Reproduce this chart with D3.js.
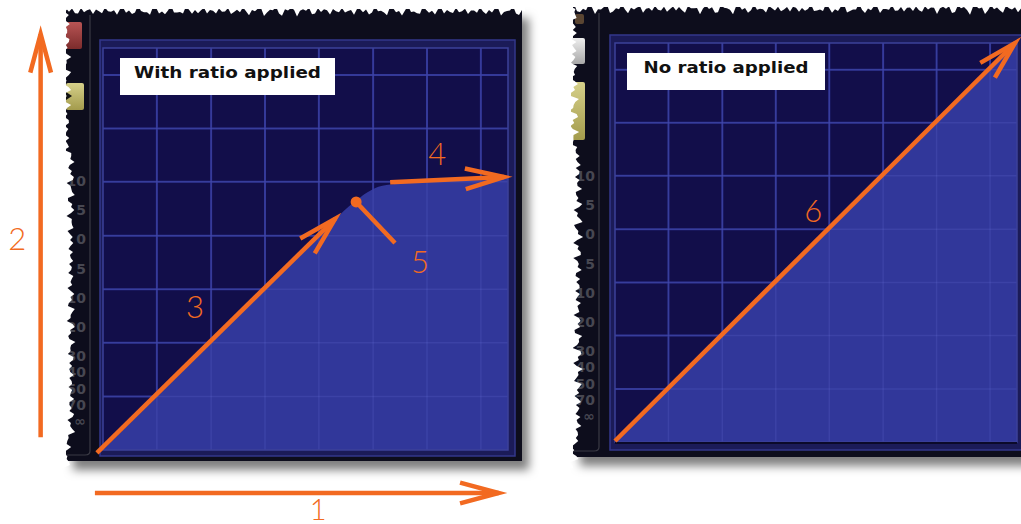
<!DOCTYPE html>
<html>
<head>
<meta charset="utf-8">
<script src="https://cdn.jsdelivr.net/npm/d3@7"></script>
<style>
  html, body { margin: 0; background: #fff; }
  svg { display: block; }
</style>
</head>
<body>
<div id="showBox"></div>
<script>
// levels are in display units: 0 = bottom / left edge, 100 = top / right edge
const gridLevels = [13.3, 26.7, 40, 53.3, 66.7, 80, 93.3];

// transfer curve with the ratio applied (soft knee)
const ratioIn  = [0, 57.5, 59.5, 62, 65, 68, 72, 80, 90, 100];
const ratioOut = [0, 57.5, 59.5, 61.6, 63.9, 65.5, 66.2, 66.7, 67.3, 67.9];

// unity curve, no ratio
const unityIn  = [0, 100];
const unityOut = [0, 100];

const kneePoint = [62.5, 61.7];

const meterLabels = ["10", "5", "0", "5", "10", "20", "30", "40", "50", "70", "\u221E"];
const titles = ["With ratio applied", "No ratio applied"];
const callouts = ["1", "2", "3", "4", "5", "6"];

const W = 1021, H = 524;
const orange = "#f26a21";

const svg = d3.select("#showBox").append("svg")
    .attr("width", W).attr("height", H);

const defs = svg.append("defs");
defs.append("filter").attr("id", "shadow")
    .attr("x", "-10%").attr("y", "-10%").attr("width", "130%").attr("height", "130%")
    .append("feDropShadow")
    .attr("dx", 7).attr("dy", 9).attr("stdDeviation", 5)
    .attr("flood-color", "#000").attr("flood-opacity", 0.5);

const redGrad = defs.append("linearGradient").attr("id", "redBtn").attr("x1", 0).attr("y1", 0).attr("x2", 0).attr("y2", 1);
redGrad.append("stop").attr("offset", 0).attr("stop-color", "#b85454");
redGrad.append("stop").attr("offset", 1).attr("stop-color", "#7c2c2c");
const yelGrad = defs.append("linearGradient").attr("id", "yelBtn").attr("x1", 0).attr("y1", 0).attr("x2", 0).attr("y2", 1);
yelGrad.append("stop").attr("offset", 0).attr("stop-color", "#d6d08a");
yelGrad.append("stop").attr("offset", 1).attr("stop-color", "#a39b4c");
const greyGrad = defs.append("linearGradient").attr("id", "greyBtn").attr("x1", 0).attr("y1", 0).attr("x2", 0).attr("y2", 1);
greyGrad.append("stop").attr("offset", 0).attr("stop-color", "#eeeeee");
greyGrad.append("stop").attr("offset", 1).attr("stop-color", "#a8a8a8");

// layout of the two plug-in screenshots
const panels = [
    {title: titles[0], xs: ratioIn, ys: ratioOut, curve: d3.curveMonotoneX,
     frame: [66, 9, 456, 452], col: 90, bezel: [100, 40, 415, 416], plot: [103, 48, 405, 402],
     box: [120, 58, 215, 37], textW: 187, left: true},
    {title: titles[1], xs: unityIn, ys: unityOut, curve: d3.curveLinear,
     frame: [573, 7, 470, 450], col: 599, bezel: [610, 35, 420, 415], plot: [615, 43, 402, 399],
     box: [627, 53, 198, 37], textW: 165, left: false}
];

panels.forEach(p => {
    const [px, py, pw, ph] = p.plot;
    p.x = d3.scaleLinear().domain([0, 100]).range([px, px + pw]);
    p.y = d3.scaleLinear().domain([0, 100]).range([py + ph, py]);
    const g = svg.append("g");

    // dark outer frame with its shadow
    const [fx, fy, fw, fh] = p.frame;
    g.append("rect").attr("x", fx).attr("y", fy).attr("width", fw).attr("height", fh)
        .attr("fill", "#0c0d1d").attr("filter", "url(#shadow)");

    // side column divider
    g.append("path")
        .attr("d", `M${p.col},${fy + 6} L${p.col},${fy + fh - 10} Q${p.col},${fy + fh - 6} ${p.col - 5},${fy + fh - 6} L${fx},${fy + fh - 6}`)
        .attr("fill", "none").attr("stroke", "#3a3a44").attr("stroke-width", 1.2);

    // little buttons on the side column
    if (p.left) {
        g.append("rect").attr("x", 66).attr("y", 22).attr("width", 16).attr("height", 27).attr("rx", 2).attr("fill", "url(#redBtn)");
        g.append("rect").attr("x", 66).attr("y", 83).attr("width", 18).attr("height", 27).attr("rx", 2).attr("fill", "url(#yelBtn)");
        g.append("path").attr("d", "M66,92 L72,96 L66,100 Z").attr("fill", "#111");
    } else {
        g.append("rect").attr("x", 575).attr("y", 14).attr("width", 9).attr("height", 10).attr("rx", 2).attr("fill", "#5a4532");
        g.append("rect").attr("x", 571).attr("y", 38).attr("width", 14).attr("height", 26).attr("rx", 2).attr("fill", "url(#greyBtn)");
        g.append("rect").attr("x", 571).attr("y", 82).attr("width", 14).attr("height", 58).attr("rx", 2).attr("fill", "url(#yelBtn)");
    }

    // meter scale labels on the side column
    const meterY = d3.scaleLinear().domain([0, 6, 10]).range([py + 138, py + 313, py + 378]);
    g.append("g").selectAll("text").data(meterLabels).join("text")
        .attr("x", p.col - 4).attr("y", (d, i) => meterY(i))
        .attr("text-anchor", "end")
        .attr("font-family", "DejaVu Sans").attr("font-weight", "bold").attr("font-size", 14)
        .attr("fill", "#474751")
        .text(d => d);

    // bezel around the display
    const [bx, by, bw, bh] = p.bezel;
    g.append("rect").attr("x", bx).attr("y", by).attr("width", bw).attr("height", bh)
        .attr("fill", "#1b1b58").attr("stroke", "#33378a").attr("stroke-width", 1.5);

    // display background
    g.append("rect").attr("x", px).attr("y", py).attr("width", pw).attr("height", ph)
        .attr("fill", "#120e4a");

    const drawGrid = (sel, color, width, op) => {
        sel.append("g").selectAll("line.v").data(gridLevels).join("line")
            .attr("x1", d => p.x(d)).attr("x2", d => p.x(d))
            .attr("y1", p.y(0)).attr("y2", p.y(100))
            .attr("stroke", color).attr("stroke-width", width).attr("stroke-opacity", op);
        sel.append("g").selectAll("line.h").data(gridLevels).join("line")
            .attr("y1", d => p.y(d)).attr("y2", d => p.y(d))
            .attr("x1", p.x(0)).attr("x2", p.x(100))
            .attr("stroke", color).attr("stroke-width", width).attr("stroke-opacity", op);
    };
    drawGrid(g, "#2c318f", 2, 1);

    // transfer curve area
    const pts = d3.zip(p.xs, p.ys);
    g.append("path").datum(pts)
        .attr("fill", "#31379a")
        .attr("d", d3.area().curve(p.curve)
            .x(d => p.x(d[0])).y0(p.y(0)).y1(d => p.y(d[1])));

    drawGrid(g, "#8a93ff", 1.5, 0.12);

    g.append("rect").attr("x", px).attr("y", py).attr("width", pw).attr("height", ph)
        .attr("fill", "none").attr("stroke", "#3d4299").attr("stroke-width", 1.5);
    if (!p.left) {
        g.append("line").attr("x1", px).attr("x2", px + pw).attr("y1", py + ph + 1).attr("y2", py + ph + 1)
            .attr("stroke", "#0b0a2a").attr("stroke-width", 2);
    }

    // title box
    const [tx, ty, tw, th] = p.box;
    g.append("rect").attr("x", tx).attr("y", ty).attr("width", tw).attr("height", th).attr("fill", "#fff");
    g.append("text")
        .attr("x", tx + tw / 2).attr("y", ty + th / 2 + 1.8)
        .attr("text-anchor", "middle")
        .attr("font-family", "DejaVu Sans, Verdana, sans-serif").attr("font-weight", "bold")
        .attr("font-size", 16.5).attr("fill", "#111")
        .attr("textLength", p.textW).attr("lengthAdjust", "spacingAndGlyphs")
        .text(p.title);
});

// torn paper edges of the screenshots
const jag = (i, s) => {
    const v = Math.sin(i * 2.31 + s) * 0.45 + Math.sin(i * 5.17 + s * 1.7) * 0.3 + Math.sin(i * 11.3 + s * 0.6) * 0.25;
    return (v + 1) / 2;
};
const tears = svg.append("g").attr("fill", "#fff");
function topTear(x0, x1, base, amp, seed) {
    const pts = [[x0, 0]];
    for (let x = x0, i = 0; x <= x1; x += 3, i++) pts.push([x, base + jag(i, seed) * amp]);
    pts.push([x1, 0]);
    tears.append("path").attr("d", d3.line()(pts) + "Z");
}
function leftTear(x0, base, amp, y1, seed) {
    const pts = [[x0, 0]];
    for (let y = 0, i = 0; y <= y1; y += 3, i++) {
        // the torn edge bites deeper next to the meter scale
        const extra = (y > 150 && y < 440) ? 4 : 0;
        pts.push([base + extra + jag(i, seed) * amp, y]);
    }
    pts.push([x0, y1]);
    tears.append("path").attr("d", d3.line()(pts) + "Z");
}
topTear(60, 526, 5, 12, 1.3);
topTear(565, 1021, 3, 12, 4.1);
leftTear(0, 62, 10, 470, 2.2);
leftTear(545, 568, 12, 470, 0.7);

// orange callouts
const ann = svg.append("g");
function arrow(x1, y1, x2, y2, head) {
    ann.append("line").attr("x1", x1).attr("y1", y1).attr("x2", x2).attr("y2", y2)
        .attr("stroke", orange).attr("stroke-width", 4.5);
    if (!head) return;
    const a = Math.atan2(y2 - y1, x2 - x1), L = 40, s = 15 * Math.PI / 180;
    ann.append("path")
        .attr("d", `M${x2 - L * Math.cos(a - s)},${y2 - L * Math.sin(a - s)} L${x2},${y2} L${x2 - L * Math.cos(a + s)},${y2 - L * Math.sin(a + s)}`)
        .attr("fill", "none").attr("stroke", orange).attr("stroke-width", 4.5).attr("stroke-linejoin", "miter");
}
function label(txt, x, y, size) {
    ann.append("text").attr("x", x).attr("y", y).attr("text-anchor", "middle")
        .attr("font-family", "Lato, Open Sans, sans-serif").attr("font-weight", 300)
        .attr("font-size", size || 31).attr("fill", orange).text(txt);
}
const L = panels[0], R = panels[1];

// 1: input axis, 2: output axis
arrow(L.x(-2), L.y(-10.7), L.x(97.7), L.y(-10.7), true);
label(callouts[0], L.x(53.1), L.y(-17.3), 29);
arrow(L.x(-15.4), L.y(3.2), L.x(-15.4), L.y(103.5), true);
label(callouts[1], L.x(-21.2), L.y(49.8));

// 3: linear part below threshold
arrow(L.x(-1.5), L.y(-0.7), L.x(57.3), L.y(57.5), true);
label(callouts[2], L.x(22.7), L.y(32.8));

// 4: compressed part above threshold
arrow(L.x(70.9), L.y(66.6), L.x(99), L.y(67.9), true);
label(callouts[3], L.x(82.5), L.y(70.9));

// 5: threshold knee
ann.append("circle").attr("cx", L.x(kneePoint[0])).attr("cy", L.y(kneePoint[1])).attr("r", 5.5).attr("fill", orange);
arrow(L.x(kneePoint[0]), L.y(kneePoint[1]), L.x(72.1), L.y(51.5), false);
label(callouts[4], L.x(78.3), L.y(44));

// 6: unity line
arrow(R.x(unityIn[0]), R.y(unityOut[0]) - 1, R.x(unityIn[1]) - 2, R.y(unityOut[1]), true);
label(callouts[5], R.x(49.3), R.y(55.1));
</script>
</body>
</html>
